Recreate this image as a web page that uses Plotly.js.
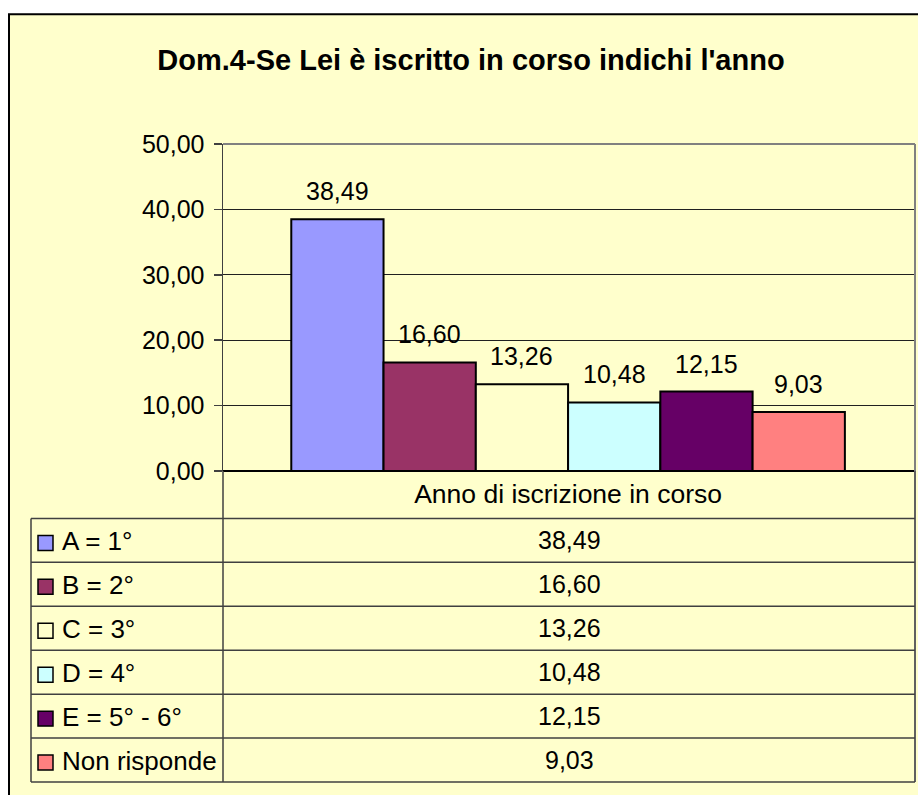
<!DOCTYPE html>
<html>
<head>
<meta charset="utf-8">
<script src="https://cdn.plot.ly/plotly-3.0.1.min.js"></script>
<style>html,body{margin:0;padding:0;background:#fff;}#chart{width:918px;height:795px;}</style>
</head>
<body>
<div id="chart"></div>
<script>
// ---- data ----
const chartTitle = "Dom.4-Se Lei è iscritto in corso indichi l'anno";
const categoryLabel = "Anno di iscrizione in corso";
const seriesNames = ["A = 1°", "B = 2°", "C = 3°", "D = 4°", "E = 5° - 6°", "Non risponde"];
const seriesValues = [38.49, 16.60, 13.26, 10.48, 12.15, 9.03];
const yTickValues = [0, 10, 20, 30, 40, 50];

// ---- style ----
const seriesColors = ["#9999FF", "#993366", "#FFFFCC", "#CCFFFF", "#660066", "#FF8080"];
const FONT = "Liberation Sans, Arial, Helvetica, sans-serif";
const FS = 25;
const W = 918, H = 795;
const L = 223, R = 915, T = 144, B = 471.5;
const xp = px => (px - L) / (R - L);
const yp = py => (B - py) / (B - T);
const fmt = v => v.toFixed(2).replace('.', ',');

const traces = seriesNames.map((name, i) => ({
  type: 'bar',
  name: name,
  x: [i],
  y: [seriesValues[i]],
  width: 1,
  marker: {color: seriesColors[i], line: {color: '#000', width: 2}},
  hoverinfo: 'name+y'
}));

const shapes = [];
const annotations = [];

// outer chart frame
shapes.push({type: 'rect', xref: 'paper', yref: 'paper', layer: 'below',
  x0: xp(9), x1: xp(940), y0: yp(14), y1: yp(820),
  fillcolor: '#FFFFCC', line: {color: '#000', width: 2}});

// plot area top / right border
shapes.push({type: 'line', xref: 'paper', yref: 'paper', x0: 0, x1: 1, y0: 1, y1: 1, line: {color: '#808080', width: 2}});
shapes.push({type: 'line', xref: 'paper', yref: 'paper', x0: 1, x1: 1, y0: 0, y1: 1, line: {color: '#808080', width: 2}});

// data table
const tableLeft = 31, tableTop = 519, rowH = 44;
const nRows = seriesNames.length;
const tableBottom = tableTop + nRows * rowH;
const lineStyle = {color: '#404040', width: 1.5};
shapes.push({type: 'line', xref: 'paper', yref: 'paper', x0: xp(L), x1: xp(L), y0: yp(B), y1: yp(tableBottom), line: lineStyle});
shapes.push({type: 'line', xref: 'paper', yref: 'paper', x0: xp(R), x1: xp(R), y0: yp(B), y1: yp(tableBottom), line: {color: '#606060', width: 2}});
shapes.push({type: 'line', xref: 'paper', yref: 'paper', x0: xp(tableLeft), x1: xp(tableLeft), y0: yp(tableTop), y1: yp(tableBottom), line: lineStyle});
for (let r = 0; r <= nRows; r++) {
  const y = tableTop + r * rowH;
  shapes.push({type: 'line', xref: 'paper', yref: 'paper', x0: xp(tableLeft), x1: xp(R), y0: yp(y), y1: yp(y), line: lineStyle});
}
seriesNames.forEach((name, i) => {
  const cy = tableTop + (i + 0.5) * rowH;
  shapes.push({type: 'rect', xref: 'paper', yref: 'paper',
    x0: xp(38), x1: xp(53), y0: yp(cy - 5), y1: yp(cy + 10),
    fillcolor: seriesColors[i], line: {color: '#000', width: 1.5}});
  annotations.push({xref: 'paper', yref: 'paper', x: xp(60), y: yp(cy + 1), xanchor: 'left', yanchor: 'middle',
    text: name, showarrow: false, font: {family: FONT, size: 26, color: '#000'}});
  annotations.push({xref: 'paper', yref: 'paper', x: xp((L + R) / 2), y: yp(cy), xanchor: 'center', yanchor: 'middle',
    text: fmt(seriesValues[i]), showarrow: false, font: {family: FONT, size: FS, color: '#000'}});
});

// value labels above bars
seriesValues.forEach((v, i) => {
  annotations.push({x: i, y: v, xref: 'x', yref: 'y', yshift: 28, yanchor: 'middle', xanchor: 'center',
    text: fmt(v), showarrow: false, font: {family: FONT, size: FS, color: '#000'}});
});

const layout = {
  width: W, height: H,
  margin: {l: L, r: W - R, t: T, b: H - B, pad: 0},
  paper_bgcolor: '#FFFFFF',
  plot_bgcolor: '#C0C0C0',
  separators: ',.',
  showlegend: false,
  barmode: 'overlay',
  font: {family: FONT, size: FS, color: '#000'},
  title: {text: '<b>' + chartTitle + '</b>', font: {family: FONT, size: 29, color: '#000'},
    xref: 'container', yref: 'container', x: 471 / W, xanchor: 'center', y: 1 - 60 / H, yanchor: 'middle'},
  xaxis: {
    range: [-1.24, 6.26], fixedrange: true,
    tickvals: [(seriesNames.length - 1) / 2], ticktext: [categoryLabel],
    ticks: '', showgrid: false, zeroline: false, showline: false,
    ticklabelstandoff: 4,
    tickfont: {family: FONT, size: 26.5, color: '#000'}
  },
  yaxis: {
    range: [0, 50], tickvals: yTickValues, tickformat: '.2f',
    ticks: 'outside', ticklen: 8, tickwidth: 1.5, tickcolor: '#404040',
    ticklabelstandoff: 4,
    showgrid: true, gridcolor: '#202020', gridwidth: 1,
    zeroline: true, zerolinecolor: '#000', zerolinewidth: 2,
    showline: true, linecolor: '#404040', linewidth: 1.5,
    tickfont: {family: FONT, size: FS, color: '#000'}
  },
  shapes: shapes,
  annotations: annotations
};

Plotly.newPlot('chart', traces, layout, {displayModeBar: false, staticPlot: true});
</script>
</body>
</html>
